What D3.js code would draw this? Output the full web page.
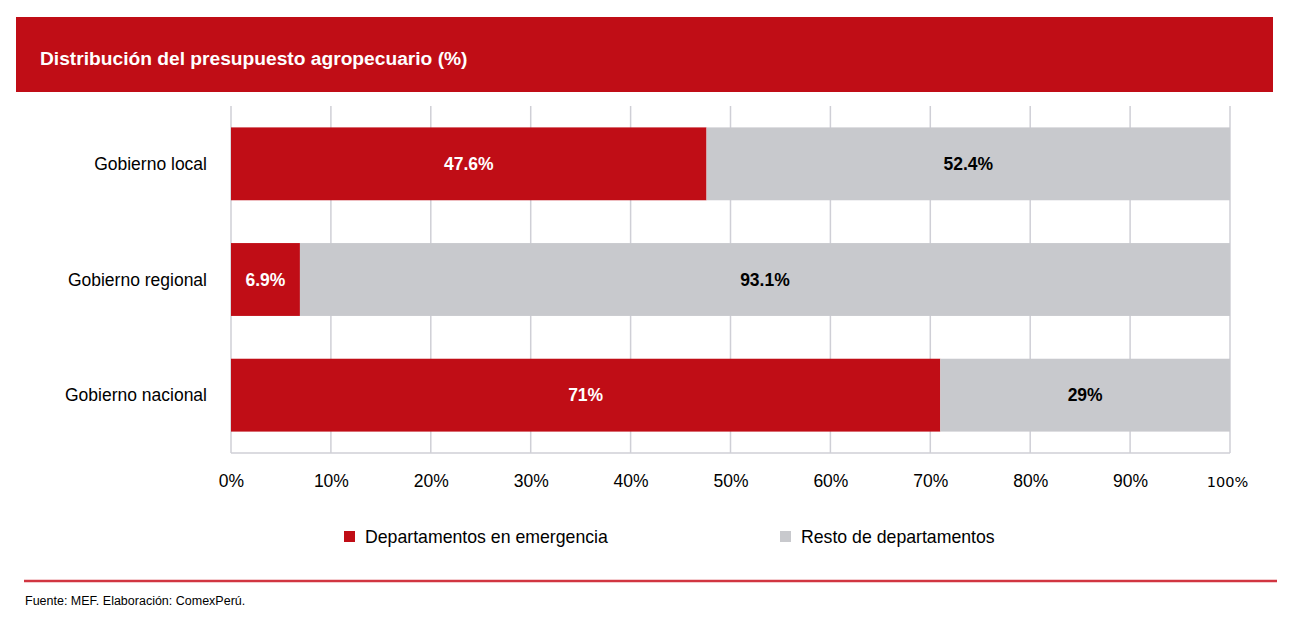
<!DOCTYPE html>
<html>
<head>
<meta charset="utf-8">
<script src="https://cdn.jsdelivr.net/npm/d3@7"></script>
<style>
  body { margin: 0; background: #fff; }
  svg { font-family: "Liberation Sans", Arial, sans-serif; }
</style>
</head>
<body>
<div id="chart"></div>
<script>
// Data
var categories = ["Gobierno local", "Gobierno regional", "Gobierno nacional"];
var emergencia = [47.6, 6.9, 71];
var resto = [52.4, 93.1, 29];
var emergenciaLabels = ["47.6%", "6.9%", "71%"];
var restoLabels = ["52.4%", "93.1%", "29%"];
var tickValues = [0, 10, 20, 30, 40, 50, 60, 70, 80, 90, 100];
var seriesNames = ["Departamentos en emergencia", "Resto de departamentos"];

var width = 1297, height = 631;
var red = "#C00D16", grey = "#C8C9CD";

var svg = d3.select("#chart").append("svg")
  .attr("width", width)
  .attr("height", height);

// Header band
svg.append("rect")
  .attr("x", 16).attr("y", 17)
  .attr("width", 1257).attr("height", 75)
  .attr("fill", red);

svg.append("text")
  .attr("x", 40).attr("y", 64.5)
  .attr("fill", "#fff")
  .attr("font-size", 19.2)
  .attr("font-weight", "bold")
  .text("Distribución del presupuesto agropecuario (%)");

// Scales
var x = d3.scaleLinear().domain([0, 100]).range([231, 1230]);
var y = d3.scaleBand().domain(categories).range([106, 453])
  .paddingInner(0.37).paddingOuter(0.185);

// Grid
svg.append("g").selectAll("line")
  .data(tickValues)
  .enter().append("line")
  .attr("x1", function(d) { return x(d); })
  .attr("x2", function(d) { return x(d); })
  .attr("y1", 106).attr("y2", 453)
  .attr("stroke", "#CFCFD6")
  .attr("stroke-width", 1.5);

svg.append("line")
  .attr("x1", x(0)).attr("x2", x(100))
  .attr("y1", 453).attr("y2", 453)
  .attr("stroke", "#CFCFD6")
  .attr("stroke-width", 1.5);

// Bars
var rows = categories.map(function(c, i) {
  return { cat: c, a: emergencia[i], b: resto[i], la: emergenciaLabels[i], lb: restoLabels[i] };
});

var g = svg.append("g");

g.selectAll(".bar-a").data(rows).enter().append("rect")
  .attr("x", x(0))
  .attr("y", function(d) { return y(d.cat); })
  .attr("width", function(d) { return x(d.a) - x(0); })
  .attr("height", y.bandwidth())
  .attr("fill", red);

g.selectAll(".bar-b").data(rows).enter().append("rect")
  .attr("x", function(d) { return x(d.a); })
  .attr("y", function(d) { return y(d.cat); })
  .attr("width", function(d) { return x(d.a + d.b) - x(d.a); })
  .attr("height", y.bandwidth())
  .attr("fill", grey);

g.selectAll(".lab-a").data(rows).enter().append("text")
  .attr("x", function(d) { return (x(0) + x(d.a)) / 2; })
  .attr("y", function(d) { return y(d.cat) + y.bandwidth() / 2; })
  .attr("dy", "0.35em")
  .attr("text-anchor", "middle")
  .attr("fill", "#fff")
  .attr("font-size", 17.5)
  .attr("font-weight", "bold")
  .text(function(d) { return d.la; });

g.selectAll(".lab-b").data(rows).enter().append("text")
  .attr("x", function(d) { return (x(d.a) + x(d.a + d.b)) / 2; })
  .attr("y", function(d) { return y(d.cat) + y.bandwidth() / 2; })
  .attr("dy", "0.35em")
  .attr("text-anchor", "middle")
  .attr("fill", "#000")
  .attr("font-size", 17.5)
  .attr("font-weight", "bold")
  .text(function(d) { return d.lb; });

// Category labels
svg.append("g").selectAll("text")
  .data(categories)
  .enter().append("text")
  .attr("x", 207)
  .attr("y", function(d) { return y(d) + y.bandwidth() / 2; })
  .attr("dy", "0.35em")
  .attr("text-anchor", "end")
  .attr("font-size", 17.5)
  .attr("fill", "#000")
  .text(function(d) { return d; });

// X axis tick labels
var xAxis = d3.axisBottom(x)
  .tickValues(tickValues)
  .tickSize(0)
  .tickPadding(0)
  .tickFormat(function(d) { return d + "%"; });

var ax = svg.append("g")
  .attr("transform", "translate(0,475)")
  .call(xAxis);
ax.select(".domain").remove();
ax.selectAll("text")
  .attr("font-family", "Liberation Sans, Arial, sans-serif")
  .attr("font-size", 17.5)
  .attr("fill", "#000")
  .attr("dy", "0.71em");
ax.selectAll(".tick").filter(function(d) { return d === 100; })
  .select("text")
  .attr("font-family", "DejaVu Sans, sans-serif")
  .attr("font-size", 14.5)
  .attr("dy", "0.85em")
  .attr("x", -3);

// Legend
var legend = svg.append("g");
var legendX = [344, 780];
var legendColors = [red, grey];
seriesNames.forEach(function(name, i) {
  legend.append("rect")
    .attr("x", legendX[i]).attr("y", 531)
    .attr("width", 11).attr("height", 11)
    .attr("fill", legendColors[i]);
  legend.append("text")
    .attr("x", legendX[i] + 21).attr("y", 537)
    .attr("dy", "0.35em")
    .attr("font-size", 17.7)
    .attr("fill", "#000")
    .text(name);
});

// Footer
svg.append("line")
  .attr("x1", 24).attr("x2", 1277)
  .attr("y1", 581).attr("y2", 581)
  .attr("stroke", "#D13541")
  .attr("stroke-width", 2.5);

svg.append("text")
  .attr("x", 25).attr("y", 605)
  .attr("font-size", 12.5)
  .attr("fill", "#000")
  .text("Fuente: MEF. Elaboración: ComexPerú.");
</script>
</body>
</html>
